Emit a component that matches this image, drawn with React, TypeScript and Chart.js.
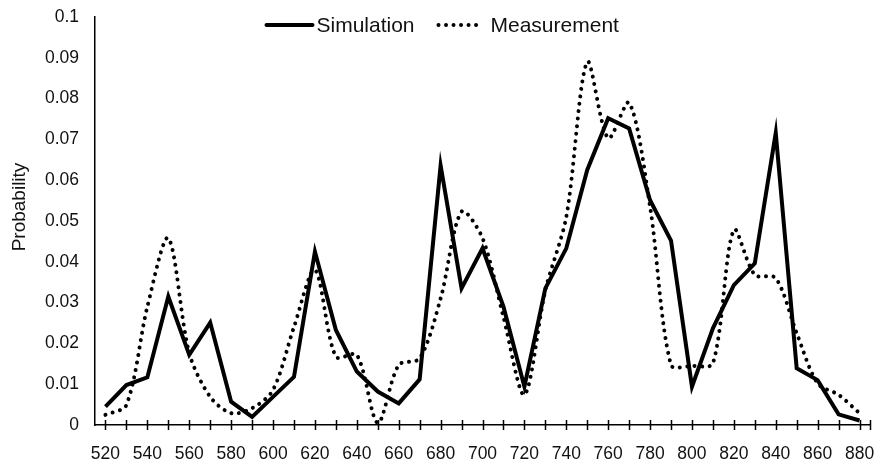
import React, { useEffect, useRef } from "react";
import { Chart, registerables } from "chart.js";

Chart.register(...registerables);

const categories = [
  "520", "530", "540", "550", "560", "570", "580", "590", "600", "610",
  "620", "630", "640", "650", "660", "670", "680", "690", "700", "710",
  "720", "730", "740", "750", "760", "770", "780", "790", "800", "810",
  "820", "830", "840", "850", "860", "870", "880",
];

const simulation = [
  0.0045, 0.0098, 0.0117, 0.0315, 0.0172, 0.0251, 0.0057, 0.002, 0.0069, 0.0118,
  0.0425, 0.0233, 0.0131, 0.0082, 0.0053, 0.0112, 0.0636, 0.0335, 0.0433, 0.029,
  0.0094, 0.0335, 0.0433, 0.0625, 0.0752, 0.0727, 0.0551, 0.0452, 0.0094, 0.0237,
  0.0343, 0.0396, 0.0716, 0.0139, 0.011, 0.0026, 0.0011,
];

const measurement = [
  0.0025, 0.0049, 0.029, 0.0458, 0.0176, 0.0069, 0.0029, 0.0041, 0.0086, 0.024,
  0.038, 0.0167, 0.0172, 0.0005, 0.0147, 0.0163, 0.031, 0.0523, 0.0458, 0.0265,
  0.0074, 0.033, 0.051, 0.089, 0.0703, 0.079, 0.0535, 0.0147, 0.0145, 0.0151,
  0.0478, 0.0368, 0.036, 0.0225, 0.0102, 0.0074, 0.0029,
];

const yTickLabels = [
  "0", "0.01", "0.02", "0.03", "0.04", "0.05", "0.06", "0.07", "0.08", "0.09", "0.1",
];

const seriesNames = ["Simulation", "Measurement"];
const yTitle = "Probability";

const FONT = "'Liberation Sans', Arial, sans-serif";
const TEXT = "#111";

const crossTicks = {
  id: "crossTicks",
  afterDraw(chart: any) {
    const x = chart.scales.x;
    const ctx = chart.ctx;
    const y0 = chart.chartArea.bottom;
    ctx.save();
    ctx.strokeStyle = "#000";
    ctx.lineWidth = 1.5;
    ctx.beginPath();
    const n = x.ticks.length;
    for (let i = 0; i < n; i++) {
      const px = Math.round(x.getPixelForTick(i)) + 0.5;
      ctx.moveTo(px, y0 - 5);
      ctx.lineTo(px, y0 + 5);
    }
    const pr = Math.round(chart.chartArea.right) + 0.5;
    ctx.moveTo(pr, y0 - 5);
    ctx.lineTo(pr, y0 + 5);
    ctx.stroke();
    ctx.restore();
  },
};

const customLegend = {
  id: "customLegend",
  afterDraw(chart: any) {
    const ctx = chart.ctx;
    const cx = chart.width / 2;
    const y = 25;
    const ds = chart.data.datasets;
    ctx.save();
    ctx.font = `21px ${FONT}`;
    ctx.fillStyle = TEXT;
    ctx.textBaseline = "middle";
    ctx.textAlign = "left";
    ctx.strokeStyle = "#000";
    ctx.lineWidth = ds[0].borderWidth;
    ctx.lineCap = "round";
    ctx.setLineDash([]);
    ctx.beginPath();
    ctx.moveTo(cx - 172, y);
    ctx.lineTo(cx - 126, y);
    ctx.stroke();
    ctx.fillText(ds[0].label, cx - 122, y + 1);
    ctx.lineWidth = ds[1].borderWidth;
    ctx.setLineDash(ds[1].borderDash);
    ctx.beginPath();
    ctx.moveTo(cx + 0, y);
    ctx.lineTo(cx + 43, y);
    ctx.stroke();
    ctx.setLineDash([]);
    ctx.fillText(ds[1].label, cx + 52, y + 1);

    // y axis title
    ctx.font = `19px ${FONT}`;
    ctx.textAlign = "center";
    ctx.translate(20, 207);
    ctx.rotate(-Math.PI / 2);
    ctx.fillText(yTitle, 0, 0);
    ctx.restore();
  },
};

export default function App() {
  const ref = useRef<HTMLCanvasElement | null>(null);

  useEffect(() => {
    if (!ref.current) return;
    const chart = new Chart(ref.current, {
      type: "line",
      data: {
        labels: categories,
        datasets: [
          {
            label: seriesNames[0],
            data: simulation,
            borderColor: "#000",
            borderWidth: 4,
            pointRadius: 0,
            tension: 0,
            fill: false,
            borderJoinStyle: "miter",
          },
          {
            label: seriesNames[1],
            data: measurement,
            borderColor: "#000",
            borderWidth: 4,
            borderDash: [0.01, 7.5],
            borderCapStyle: "round",
            pointRadius: 0,
            tension: 0.3,
            fill: false,
          },
        ],
      },
      options: {
        responsive: false,
        animation: false,
        devicePixelRatio: 1,
        layout: { padding: { top: 17, right: 7, left: 0, bottom: 0 } },
        plugins: {
          legend: { display: false },
          tooltip: { enabled: false },
        },
        scales: {
          x: {
            type: "category",
            offset: true,
            grid: { display: false, drawTicks: false },
            border: { display: true, color: "#000", width: 1.5 },
            ticks: {
              color: TEXT,
              font: { family: FONT, size: 17.5 },
              padding: 19,
              maxRotation: 0,
              autoSkip: false,
              callback: (_v: any, i: number) => (i % 2 === 0 ? categories[i] : ""),
            },
            afterFit(scale: any) {
              scale.height = 41;
              scale.paddingLeft = 0;
              scale.paddingRight = 0;
              scale.paddingTop = 0;
              scale.paddingBottom = 0;
            },
          },
          y: {
            min: 0,
            max: 0.1,
            grid: { display: false, drawTicks: false },
            border: { display: true, color: "#000", width: 1.5 },
            ticks: {
              stepSize: 0.01,
              color: TEXT,
              font: { family: FONT, size: 17.5 },
              padding: 16,
              callback: (_v: any, i: number) => yTickLabels[i],
            },
            afterFit(scale: any) {
              scale.width = 95;
              scale.paddingLeft = 0;
              scale.paddingRight = 0;
              scale.paddingTop = 0;
              scale.paddingBottom = 0;
            },
          },
        },
      },
      plugins: [crossTicks, customLegend],
    });
    return () => chart.destroy();
  }, []);

  return (
    <div style={{ position: "fixed", left: 0, top: 0, width: 877, height: 466, background: "#fff" }}>
      <canvas ref={ref} width={877} height={466} />
    </div>
  );
}
